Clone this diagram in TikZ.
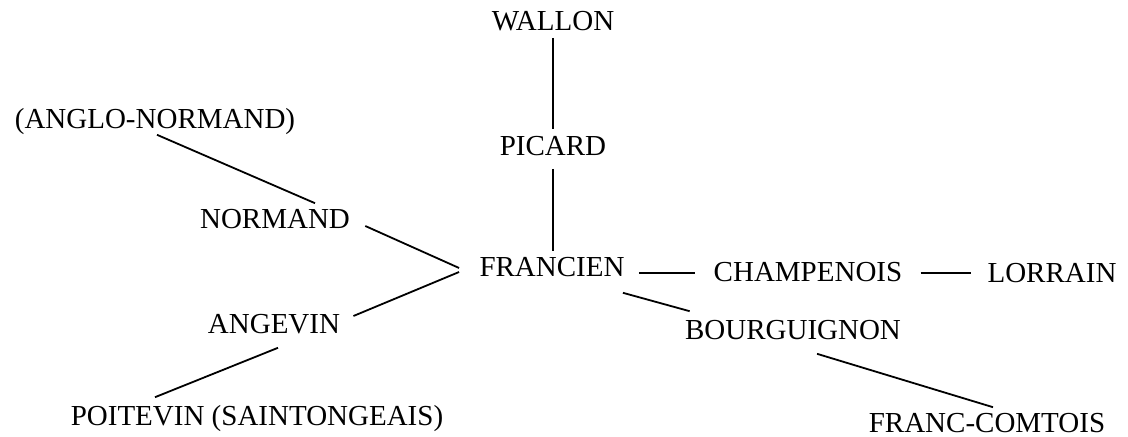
\documentclass[tikz,border=0pt]{standalone}
\usepackage{fontspec}
\setmainfont{Liberation Serif}
\usepackage{tikz}

\begin{document}
\begin{tikzpicture}[
    x=0.5pt, y=-0.5pt,
    dialect/.style={inner sep=0pt, text height=9.4pt, text depth=0pt, font=\fontsize{14.5}{16}\selectfont},
    link/.style={line width=0.9pt}
]
    \useasboundingbox (0,0) rectangle (1128,437);

    \node[dialect] (wallon) at (553,21) {WALLON};
    \node[dialect] (picard) at (553,146) {PICARD};
    \node[dialect] (anglo) at (155,119) {(ANGLO-NORMAND)};
    \node[dialect] (normand) at (275,219) {NORMAND};
    \node[dialect] (francien) at (552,267) {FRANCIEN};
    \node[dialect] (champenois) at (808,272) {CHAMPENOIS};
    \node[dialect] (lorrain) at (1052,273) {LORRAIN};
    \node[dialect] (angevin) at (274,324) {ANGEVIN};
    \node[dialect] (bourguignon) at (793,330) {BOURGUIGNON};
    \node[dialect] (poitevin) at (257,416) {POITEVIN (SAINTONGEAIS)};
    \node[dialect] (franccomtois) at (987,423) {FRANC-COMTOIS};

  \draw[link] ([shift={(0,7)}]wallon.south) -- ([shift={(0,-7)}]picard.north);
  \draw[link] ([shift={(0,13)}]picard.south) -- ([shift={(1,-6)}]francien.north);
  \draw[link] ([shift={(2,6)}]anglo.south) -- ([shift={(40,-6)}]normand.north);
  \draw[link] ([shift={(15,7)}]normand.east) -- ([shift={(-20,1)}]francien.west);
  \draw[link] ([shift={(13,-8)}]angevin.east) -- ([shift={(-20,5)}]francien.west);
  \draw[link] ([shift={(4,14)}]angevin.south) -- ([shift={(-102,-9)}]poitevin.north);
  \draw[link] ([shift={(14,6)}]francien.east) -- ([shift={(-18,1)}]champenois.west);
  \draw[link] ([shift={(18,1)}]champenois.east) -- ([shift={(-16,0)}]lorrain.west);
  \draw[link] ([shift={(-2,16)}]francien.south east) -- ([shift={(5,-9)}]bourguignon.north west);
  \draw[link] ([shift={(24,14)}]bourguignon.south) -- ([shift={(6,-6)}]franccomtois.north);
\end{tikzpicture}
\end{document}
